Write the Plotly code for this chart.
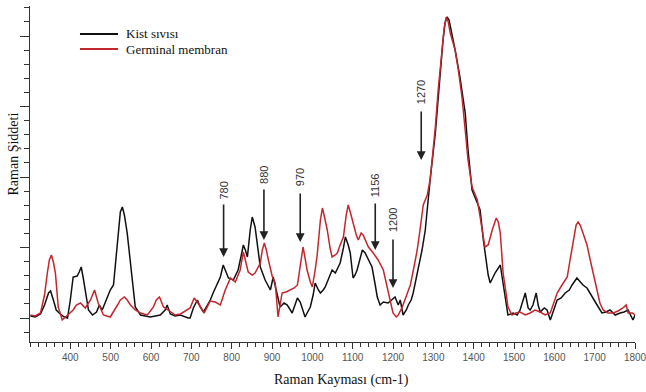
import plotly.graph_objects as go

# Raman shift (cm-1) and intensity (a.u.)
kist_x = [301, 313, 326, 336, 346, 351, 358, 365, 375, 385, 393, 400, 407, 417, 422, 427, 432, 437, 445, 455,
          465, 472, 479, 489, 499, 507, 514, 519, 524, 529, 534, 541, 549, 554, 561, 574, 586, 598, 611, 623,
          635, 640, 648, 660, 673, 685, 692, 697, 705, 715, 722, 730, 740, 747, 754, 764, 772, 779, 787, 792,
          804, 816, 824, 829, 834, 839, 846, 851, 858, 866, 871, 883, 896, 903, 913, 920, 930, 938, 950, 958,
          963, 970, 975, 982, 987, 995, 1002, 1007, 1015, 1020, 1027, 1032, 1039, 1049, 1057, 1069, 1077, 1082,
          1089, 1094, 1101, 1106, 1111, 1119, 1124, 1131, 1136, 1148, 1156, 1161, 1168, 1176, 1188, 1198, 1205,
          1213, 1218, 1225, 1233, 1238, 1245, 1250, 1262, 1272, 1280, 1287, 1292, 1305, 1317, 1324, 1329, 1334,
          1339, 1347, 1354, 1366, 1379, 1386, 1396, 1404, 1409, 1416, 1424, 1428, 1436, 1441, 1453, 1466, 1473,
          1478, 1485, 1498, 1508, 1515, 1528, 1535, 1540, 1547, 1555, 1560, 1565, 1575, 1582, 1590, 1597, 1607,
          1617, 1627, 1637, 1644, 1656, 1664, 1671, 1681, 1689, 1699, 1706, 1718, 1728, 1738, 1751, 1763, 1773,
          1783, 1790, 1795, 1800]
kist_y = [2, 1, 4, 13, 25, 27, 18, 8, 4, 1, 0, 18, 41, 42, 46, 51, 40, 28, 8, 3,
          6, 13, 8, 18, 28, 33, 63, 88, 106, 111, 103, 85, 56, 41, 11, 3, 2, 1, 2, 3,
          8, 13, 4, 2, 3, 1, 0, 0, 10, 18, 11, 6, 13, 18, 25, 33, 41, 53, 45, 40,
          38, 48, 63, 73, 68, 61, 88, 101, 91, 68, 51, 38, 28, 41, 25, 11, 15, 13, 5, 13,
          20, 16, 10, 1, 5, 11, 23, 35, 28, 25, 28, 31, 38, 48, 45, 55, 70, 81,
          73, 65, 40, 43, 48, 60, 68, 65, 61, 51, 33, 21, 13, 16, 15, 18, 21,
          13, 18, 3, 8, 13, 18, 25, 48, 68, 88, 121, 138, 185, 245, 278, 295, 301,
          298, 283, 268, 241, 205, 168, 128, 120, 115, 108, 78, 65, 43, 35, 45, 53, 33,
          18, 3, 5, 3, 8, 25, 10, 8, 13, 25, 13, 6, 10, 8, -2, 6, 18,
          20, 25, 28, 33, 40, 36, 33, 30, 25, 18, 13, 5, 6, 8, 3, 5, 6,
          8, 3, -2, 3]

germ_x = [301, 313, 326, 336, 343, 348, 353, 358, 363, 370, 380, 393, 407, 415, 425, 437, 450, 460, 469, 482,
          499, 517, 524, 534, 541, 549, 561, 574, 591, 606, 613, 621, 626, 631, 643, 660, 673, 680, 697, 707,
          720, 732, 747, 759, 772, 784, 797, 809, 821, 829, 836, 841, 851, 858, 871, 876, 881, 886, 891, 901,
          908, 915, 920, 925, 935, 945, 955, 963, 970, 977, 982, 987, 995, 1000, 1007, 1012, 1020, 1025, 1029,
          1037, 1044, 1049, 1057, 1062, 1069, 1077, 1084, 1089, 1094, 1101, 1109, 1114, 1121, 1126, 1134, 1139,
          1151, 1163, 1176, 1183, 1188, 1195, 1200, 1208, 1213, 1223, 1233, 1243, 1253, 1260, 1267, 1275, 1285,
          1292, 1297, 1305, 1312, 1322, 1327, 1332, 1337, 1342, 1354, 1362, 1371, 1379, 1386, 1396, 1404, 1409,
          1416, 1424, 1428, 1436, 1446, 1456, 1461, 1466, 1473, 1481, 1485, 1495, 1505, 1515, 1528, 1540, 1552,
          1565, 1577, 1590, 1597, 1607, 1619, 1632, 1639, 1647, 1654, 1659, 1664, 1671, 1681, 1689, 1699, 1706,
          1713, 1721, 1733, 1746, 1758, 1770, 1778, 1783, 1793, 1800]
germ_y = [3, 2, 5, 23, 45, 58, 63, 56, 45, 11, -2, 3, 8, 13, 15, 10, 18, 28, 15, 3,
          1, 13, 18, 21, 18, 13, 8, 5, 3, 11, 18, 21, 16, 11, 8, 3, 4, 6, 10, 20,
          13, 5, 17, 16, 13, 28, 40, 36, 48, 66, 53, 46, 43, 45, 55, 68, 75, 68, 58, 41,
          35, 1, 13, 25, 26, 28, 30, 33, 50, 71, 60, 48, 36, 31, 48, 63, 98, 110, 103,
          88, 70, 61, 63, 65, 73, 81, 103, 113, 106, 95, 83, 78, 85, 83, 76, 71,
          65, 58, 48, 36, 28, 13, 5, 1, 3, 11, 23, 33, 53, 68, 88, 113, 123,
          138, 158, 191, 228, 268, 290, 301, 296, 285, 268, 248, 221, 188, 158, 131, 123, 118,
          101, 81, 71, 73, 88, 100, 96, 85, 45, 23, 11, 3, 5, 6, 3, 5, 8,
          6, 3, 5, 13, 25, 33, 41, 58, 78, 93, 96, 93, 85, 73, 58, 40, 25,
          15, 8, 5, 5, 7, 10, 13, 5, 5, 3]

series_names = ["Kist sıvısı", "Germinal membran"]
series_colors = ["#111111", "#c4262e"]

# peak markers: wavenumber, arrow head / tail intensity, label centre intensity
peak_labels = ["780", "880", "970", "1156", "1200", "1270"]
peak_x = [780, 880, 970, 1156, 1200, 1270]
peak_head = [61, 78, 76, 68, 30, 158]
peak_tail = [115, 130, 126, 116, 80, 208]
peak_text = [127, 143, 141, 133, 98, 226]

x_ticks = list(range(400, 1801, 100))

fig = go.Figure()
for xs, ys, name, col in [(kist_x, kist_y, series_names[0], series_colors[0]),
                          (germ_x, germ_y, series_names[1], series_colors[1])]:
    fig.add_trace(go.Scatter(x=xs, y=ys, mode="lines", name=name,
                             line=dict(color=col, width=1.5), showlegend=False))

annotations = []
for lab, xv, hv, tv, yt in zip(peak_labels, peak_x, peak_head, peak_tail, peak_text):
    annotations.append(dict(x=xv, y=hv, ax=xv, ay=tv, xref="x", yref="y", axref="x", ayref="y",
                            text="", showarrow=True, arrowhead=2, arrowsize=1.1, arrowwidth=1.6,
                            arrowcolor="#222222", standoff=0, startstandoff=0))
    annotations.append(dict(x=xv, y=yt, xref="x", yref="y", text=lab, showarrow=False,
                            textangle=-90, font=dict(family="Liberation Sans, Arial", size=11, color="#333333")))

# manual legend
shapes = []
leg_y = [0.917, 0.872]
for i, (name, col) in enumerate(zip(series_names, series_colors)):
    shapes.append(dict(type="line", xref="paper", yref="paper", x0=0.0826, x1=0.1455,
                       y0=leg_y[i], y1=leg_y[i], line=dict(color=col, width=2)))
    annotations.append(dict(x=0.155, y=leg_y[i], xref="paper", yref="paper", text=name,
                            showarrow=False, xanchor="left", yanchor="middle",
                            font=dict(family="Liberation Serif, Times New Roman", size=13, color="#111111")))

annotations.append(dict(x=0.515, y=-0.113, xref="paper", yref="paper", text="Raman Kayması (cm-1)",
                        showarrow=False, xanchor="center", yanchor="middle",
                        font=dict(family="Liberation Serif, Times New Roman", size=14, color="#111111")))
annotations.append(dict(x=-0.027, y=0.56, xref="paper", yref="paper", text="Raman Şiddeti",
                        showarrow=False, textangle=-90, xanchor="center", yanchor="middle",
                        font=dict(family="Liberation Serif, Times New Roman", size=14, color="#111111")))

fig.update_layout(
    width=646, height=392,
    margin=dict(l=30, r=11, t=6, b=50, autoexpand=False),
    plot_bgcolor="white", paper_bgcolor="white",
    annotations=annotations, shapes=shapes,
    xaxis=dict(range=[300, 1800], tickvals=x_ticks, ticktext=[str(v) for v in x_ticks],
               automargin=False,
               showgrid=False, zeroline=False, showline=True, linecolor="#333333", linewidth=1.2,
               ticks="outside", ticklen=6, tickcolor="#333333", tickwidth=1,
               ticklabeloverflow="allow",
               tickfont=dict(family="Liberation Sans, Arial", size=10, color="#555555"),
               minor=dict(dtick=20, tick0=300, ticks="outside", ticklen=4, tickcolor="#333333")),
    yaxis=dict(range=[-24, 312], tick0=0, dtick=70.5, showticklabels=False, automargin=False,
               showgrid=False, zeroline=False, showline=True, linecolor="#333333", linewidth=1.2,
               ticks="outside", ticklen=9, tickcolor="#333333", tickwidth=1,
               minor=dict(dtick=14.1, tick0=0, ticks="outside", ticklen=5, tickcolor="#333333")),
)

fig.write_html("out.html", config={"displayModeBar": False},
               post_script="document.body.style.margin='0';document.body.style.overflow='hidden';")
